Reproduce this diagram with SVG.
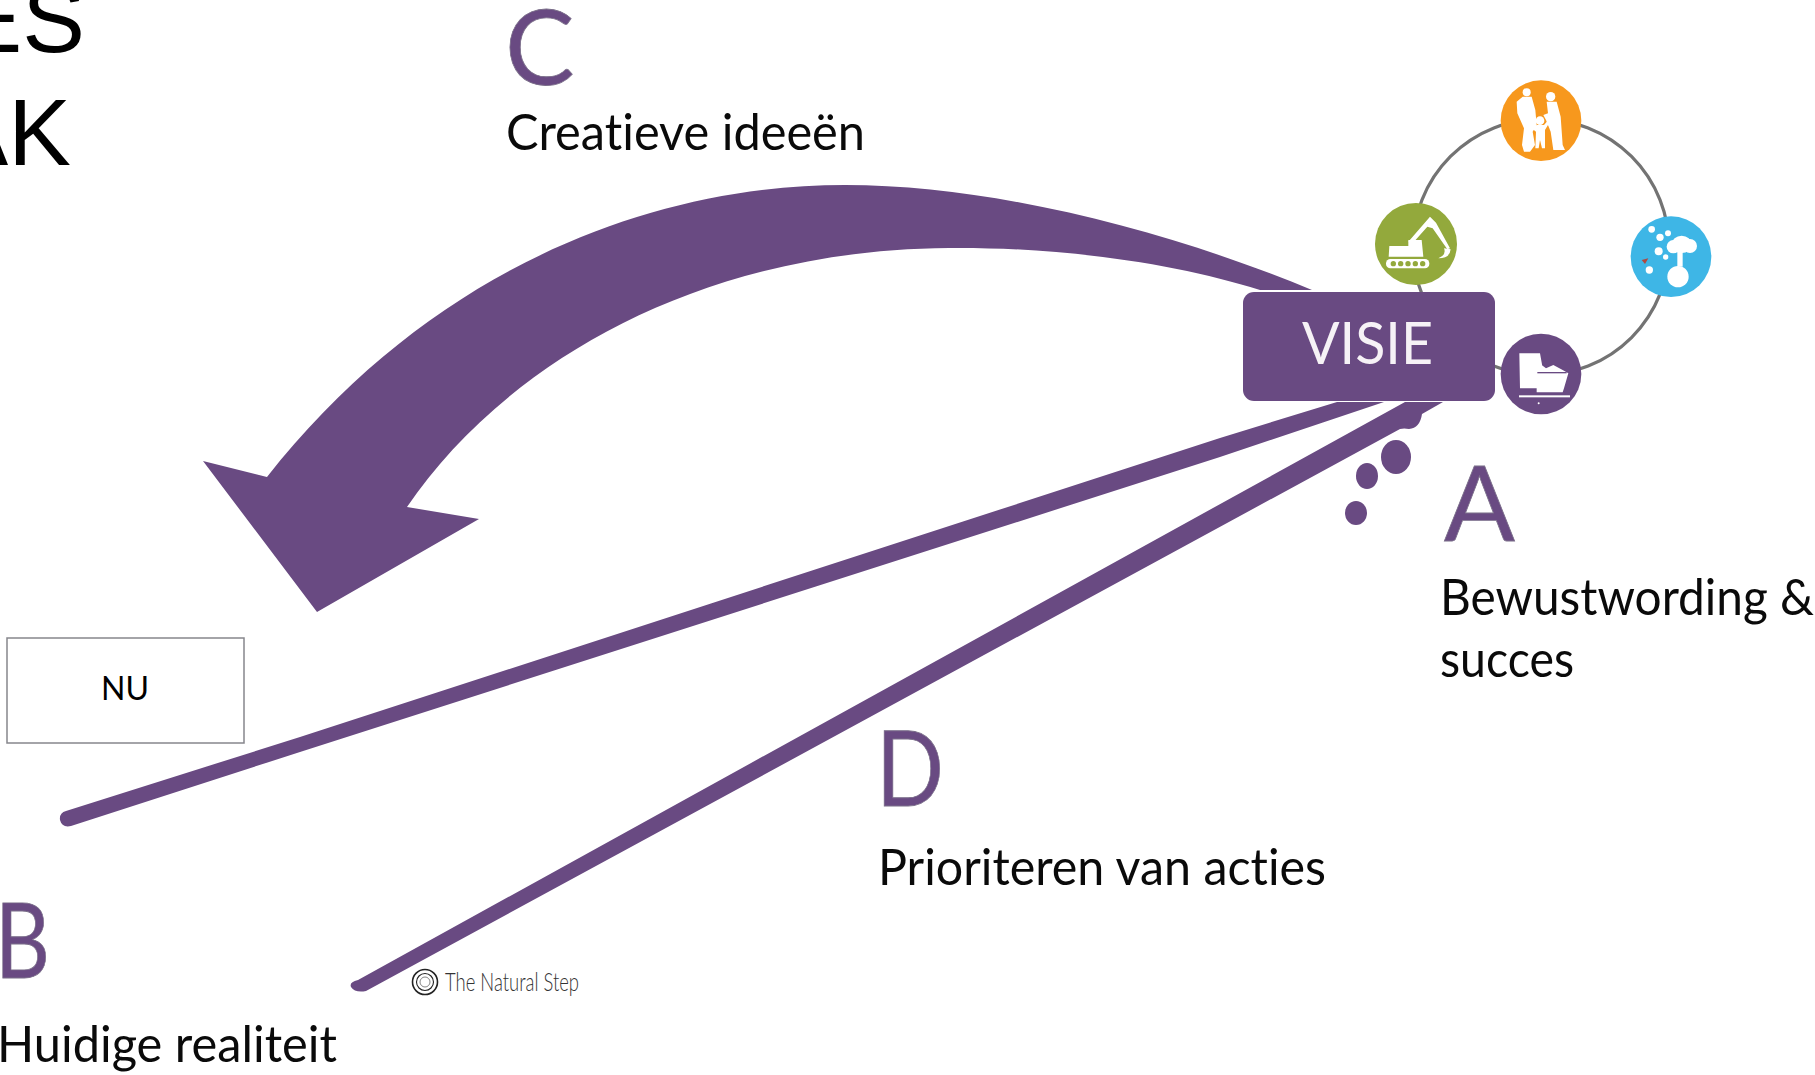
<svg xmlns="http://www.w3.org/2000/svg" width="1815" height="1075" viewBox="0 0 1815 1075">
<style>
.p{fill:#694a82}
.w{fill:#fff}
.big{font-family:Lato,"Liberation Sans",sans-serif;font-size:104px;fill:#694a82;stroke:#7b6f8a;stroke-width:.8}
.lab{font-family:Lato,"Liberation Sans",sans-serif;font-size:50px;fill:#0a0a0a;font-variant-ligatures:none}
.title{font-family:"Liberation Sans",Arial,sans-serif;font-size:94px;fill:#000}
</style>
<rect width="1815" height="1075" fill="#fff"/>
<g id="title">
<text class="title" x="85" y="52" text-anchor="end">ES</text>
<text class="title" x="71" y="165" text-anchor="end">AK</text>
</g>
<g id="ring"><circle cx="1541" cy="247" r="128" fill="none" stroke="#737373" stroke-width="3.2"/></g>
<g id="connectors">
<path class="p" d="M1312 290C1180 235 1000 185 845 185C650 185 430 270 267 477L203 461L317 612L479 519L407 507C500 370 690 250 949 248C1070 247 1180 265 1260 290Z"/>
<path class="p" d="M1337 402L1384 402L1220 457L300 752L71 826Q62 828 60 820Q59 813 66 811L300 737L1220 438Z"/>
<path class="p" d="M1405 402L1443 402L1422 414Q1420 428 1409 429Q1404 428 1400 429L366 991Q355 993 351 987Q349 982 358 980Z"/>
<ellipse class="p" cx="1396" cy="457" rx="15" ry="17"/>
<ellipse class="p" cx="1367" cy="476" rx="11" ry="13"/>
<ellipse class="p" cx="1356" cy="513" rx="11" ry="12"/>
</g>
<g id="node-people" transform="translate(1340 60) scale(.33333)">
<circle cx="603" cy="182" r="121" fill="#f7981d"/>
<g class="w">
<circle cx="560" cy="97" r="12"/><circle cx="632" cy="110" r="14"/><circle cx="600" cy="182" r="13"/>
<path d="M530 125L548 110H575L586 150L590 195L578 215L585 255L570 275H552L546 255L552 205L532 160Z"/>
<path d="M620 125H650L662 170L668 255L675 270H640L632 215L618 180L610 165L624 160Z"/>
<path d="M575 205L590 195H612L625 180L628 188L615 210V265H606L600 240L596 265H586L588 215Z"/>
</g>
</g>
<g id="node-excavator" transform="translate(1340 60) scale(.33333)">
<circle cx="228" cy="552" r="123" fill="#93a93c"/>
<g class="w">
<path d="M148 558H205V540H245L250 590H146Z"/>
<path d="M205 545L270 470L288 488L330 565L322 568L278 505L262 500L222 545Z"/>
<path d="M312 565L332 568Q330 595 295 595Q320 585 312 565Z"/>
<rect x="138" y="597" width="130" height="28" rx="13"/>
</g>
<g fill="#93a93c"><circle cx="160" cy="611" r="8"/><circle cx="182" cy="611" r="8"/><circle cx="204" cy="611" r="8"/><circle cx="226" cy="611" r="8"/><circle cx="248" cy="611" r="8"/></g>
</g>
<g id="node-water" transform="translate(1340 60) scale(.33333)">
<circle cx="993" cy="590" r="121" fill="#3eb6e6"/>
<g class="w">
<circle cx="935" cy="508" r="10"/><circle cx="960" cy="532" r="11"/><circle cx="984" cy="520" r="9"/><circle cx="956" cy="574" r="12"/><circle cx="977" cy="591" r="8"/><circle cx="928" cy="630" r="11"/>
<ellipse cx="1025" cy="553" rx="30" ry="26"/><circle cx="1000" cy="560" r="20"/><circle cx="1050" cy="558" r="21"/>
<path d="M1012 575H1028V620H1012Z"/><circle cx="1014" cy="650" r="32"/>
</g>
<path d="M905 600L925 595L915 612Z" fill="#b0483f"/>
</g>
<g id="node-factory" transform="translate(1340 60) scale(.33333)">
<circle cx="603" cy="942" r="121" fill="#694a82"/>
<g class="w">
<path d="M538 880H600L610 935H590L605 915L618 925L640 915L668 930L685 940L672 985L668 997H590V985H540Z"/>
<rect x="537" y="1006" width="153" height="6"/>
<circle cx="596" cy="1030" r="3"/>
</g>
<path d="M592 938H680" stroke="#694a82" stroke-width="4" fill="none"/>
</g>
<g id="node-visie">
<rect class="p" x="1243" y="292" width="252" height="109" rx="11"/>
<text x="1302" y="364" font-family="Lato,'Liberation Sans',sans-serif" font-size="58" fill="#f6f2f6" textLength="131" lengthAdjust="spacingAndGlyphs">VISIE</text>
</g>
<g id="node-nu">
<rect x="7" y="638" width="237" height="105" fill="#fff" stroke="#86868c" stroke-width="1.5"/>
<text x="125" y="700" text-anchor="middle" font-family="Lato,'Liberation Sans',sans-serif" font-size="32" fill="#000">NU</text>
</g>
<g id="node-a">
<text class="big" x="1444" y="541" textLength="71" lengthAdjust="spacingAndGlyphs">A</text>
<text class="lab" x="1440" y="615" textLength="374" lengthAdjust="spacingAndGlyphs">Bewustwording &amp;</text>
<text class="lab" x="1440" y="677" textLength="134" lengthAdjust="spacingAndGlyphs">succes</text>
</g>
<g id="node-b">
<text class="big" x="-5" y="978" textLength="55" lengthAdjust="spacingAndGlyphs">B</text>
<text class="lab" x="-3" y="1062" textLength="340" lengthAdjust="spacingAndGlyphs">Huidige realiteit</text>
</g>
<g id="node-c">
<text class="big" x="505" y="85">C</text>
<text class="lab" x="506" y="150" textLength="359" lengthAdjust="spacingAndGlyphs">Creatieve ideeën</text>
</g>
<g id="node-d">
<text class="big" x="876" y="806" textLength="68" lengthAdjust="spacingAndGlyphs">D</text>
<text class="lab" x="878" y="885" textLength="448" lengthAdjust="spacingAndGlyphs">Prioriteren van acties</text>
</g>
<g id="logo">
<g fill="none" stroke="#222"><circle cx="425" cy="982" r="12.5" stroke-width="1.6"/><circle cx="425" cy="982" r="8.5" stroke-width="1.1"/><circle cx="425" cy="982" r="5" stroke-width=".9" stroke="#777"/></g>
<text x="445" y="991" font-family="Lato,'Liberation Sans',sans-serif" font-weight="300" font-size="26" fill="#333" textLength="134" lengthAdjust="spacingAndGlyphs">The Natural Step</text>
</g>
</svg>
